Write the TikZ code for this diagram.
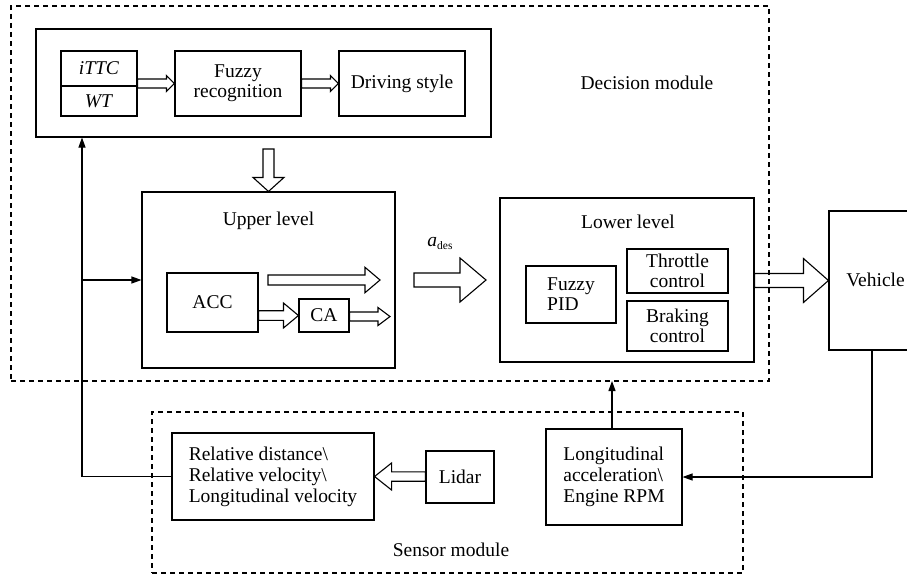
\documentclass[tikz,border=0pt]{standalone}
\usepackage{fontspec}
\setmainfont{Liberation Serif}
\usetikzlibrary{calc,arrows.meta}
\newcommand\myfs{\fontsize{19.5}{20}\selectfont}
\newcommand\mysfs{\fontsize{19.5}{21}\selectfont}
\tikzset{
  box/.style={draw, line width=1.1pt, inner sep=0pt, align=center, font=\myfs},
  sbox/.style={draw, line width=1.1pt, inner sep=0pt, align=left, font=\mysfs},
  dbox/.style={draw, line width=1.1pt, dash pattern=on 5pt off 4pt, inner sep=0pt},
  lbl/.style={inner sep=0pt, font=\myfs},
  conn/.style={line width=1.1pt, -{Triangle[length=10pt,width=7pt]}},
  harrow/.style={draw, line width=1.1pt, line join=miter}
}
% hollow right arrow: start, end, shaft half, head half, head length
\newcommand\harrowR[5]{\path[harrow] let \p1=#1, \p2=#2 in
  (\x1,\y2+#3) -- (\x2-#5,\y2+#3) -- (\x2-#5,\y2+#4) -- (\x2,\y2) --
  (\x2-#5,\y2-#4) -- (\x2-#5,\y2-#3) -- (\x1,\y2-#3) -- cycle;}
% hollow left arrow
\newcommand\harrowL[5]{\path[harrow] let \p1=#1, \p2=#2 in
  (\x1,\y2+#3) -- (\x2+#5,\y2+#3) -- (\x2+#5,\y2+#4) -- (\x2,\y2) --
  (\x2+#5,\y2-#4) -- (\x2+#5,\y2-#3) -- (\x1,\y2-#3) -- cycle;}
% hollow down arrow
\newcommand\varrowD[5]{\path[harrow] let \p1=#1, \p2=#2 in
  (\x2+#3,\y1) -- (\x2+#3,\y2+#5) -- (\x2+#4,\y2+#5) -- (\x2,\y2) --
  (\x2-#4,\y2+#5) -- (\x2-#3,\y2+#5) -- (\x2-#3,\y1) -- cycle;}
\begin{document}
\begin{tikzpicture}[x=1pt,y=-1pt]
\useasboundingbox (0,0) rectangle (907,576);
\clip (0,0) rectangle (907,576);

% modules
\node[dbox, minimum width=758pt, minimum height=375pt] (dec) at (390,193.5) {};
\node[dbox, minimum width=591pt, minimum height=161pt] (sens) at (447.5,492.5) {};
\node[lbl] (declbl) at (647,83) {Decision module};
\node[lbl] (senslbl) at (451,550) {Sensor module};

% top block
\node[box, minimum width=455pt, minimum height=108pt] (top) at (263.5,83) {};
\node[box, minimum width=76pt, minimum height=35pt] (ittc) at (99,68.5) {\textit{iTTC}};
\node[box, minimum width=76pt, minimum height=30pt] (wt) at (99,101) {\textit{WT}};
\node[box, minimum width=126pt, minimum height=65pt] (fuzzy) at (238,83.5) {Fuzzy\\recognition};
\node[box, minimum width=126pt, minimum height=65pt] (drive) at (402,83.5) {Driving style};
\harrowR{(wt.east)}{(fuzzy.west)}{4.5pt}{8pt}{8pt}
\harrowR{(fuzzy.east)}{(drive.west)}{4.5pt}{8pt}{8pt}

% upper level
\node[box, minimum width=253pt, minimum height=176pt] (upper) at (268.5,280) {};
\node[lbl] (upperlbl) at (268.5,221) {Upper level};
\node[box, minimum width=91pt, minimum height=59pt] (acc) at (212.5,302.5) {ACC};
\node[box, minimum width=50pt, minimum height=33pt] (ca) at (324,315.5) {CA};
\coordinate (downstart) at (268.5,149);
\varrowD{(downstart)}{(upper.north)}{5.5pt}{15.5pt}{14pt}
\harrowR{(acc.east)}{(ca.west)}{4.8pt}{12.5pt}{15pt}
\coordinate (caout) at (390,316.5);
\harrowR{(ca.east)}{(caout)}{4.5pt}{9pt}{12pt}
\coordinate (upa) at (268,280);
\coordinate (upb) at (380,280);
\harrowR{(upa)}{(upb)}{5pt}{12.7pt}{15pt}

% a_des
\node[lbl] (ades) at (440,243) {\textit{a}\raisebox{-3pt}{\fontsize{11.5}{12}\selectfont des}};
\coordinate (adesa) at (414,280);
\coordinate (adesb) at (486,280);
\harrowR{(adesa)}{(adesb)}{7pt}{22pt}{26pt}

% lower level
\node[box, minimum width=254pt, minimum height=164pt] (lower) at (627,280) {};
\node[lbl] (lowerlbl) at (628,222) {Lower level};
\node[box, minimum width=90pt, minimum height=57pt, align=left] (fpid) at (571,294.5) {Fuzzy\\PID};
\node[box, minimum width=101pt, minimum height=44pt] (thr) at (677.5,271) {Throttle\\control};
\node[box, minimum width=101pt, minimum height=50pt] (brk) at (677.5,326) {Braking\\control};

% vehicle
\node[box, minimum width=100pt, minimum height=139pt] (veh) at (879,280.5) {};
\node[lbl] (vehlbl) at (875.5,280) {Vehicle};
\harrowR{(lower.east)}{(veh.west)}{7pt}{22pt}{25pt}

% sensor module
\node[sbox, minimum width=202pt, minimum height=87pt, inner xsep=15pt] (rel) at (273,476.5)
  {Relative distance\textbackslash\\Relative velocity\textbackslash\\Longitudinal velocity};
\node[box, minimum width=68pt, minimum height=52pt] (lidar) at (460,477) {Lidar};
\node[sbox, minimum width=136pt, minimum height=96pt] (lon) at (614,477)
  {Longitudinal\\acceleration\textbackslash\\Engine RPM};
\harrowL{(lidar.west)}{(rel.east)}{4.7pt}{13.5pt}{17pt}

% connectors
\coordinate (fbx) at (82,477);
\draw[conn] (rel.west) -| (top.south -| fbx);
\draw[conn] (upper.west -| fbx) -- (upper.west);
\coordinate (vx) at (872,350);
\draw[conn] (veh.south -| vx) |- (lon.east);
\coordinate (decb) at (612,381);
\draw[conn] (lon.north -| decb) -- (decb);
\end{tikzpicture}
\end{document}
